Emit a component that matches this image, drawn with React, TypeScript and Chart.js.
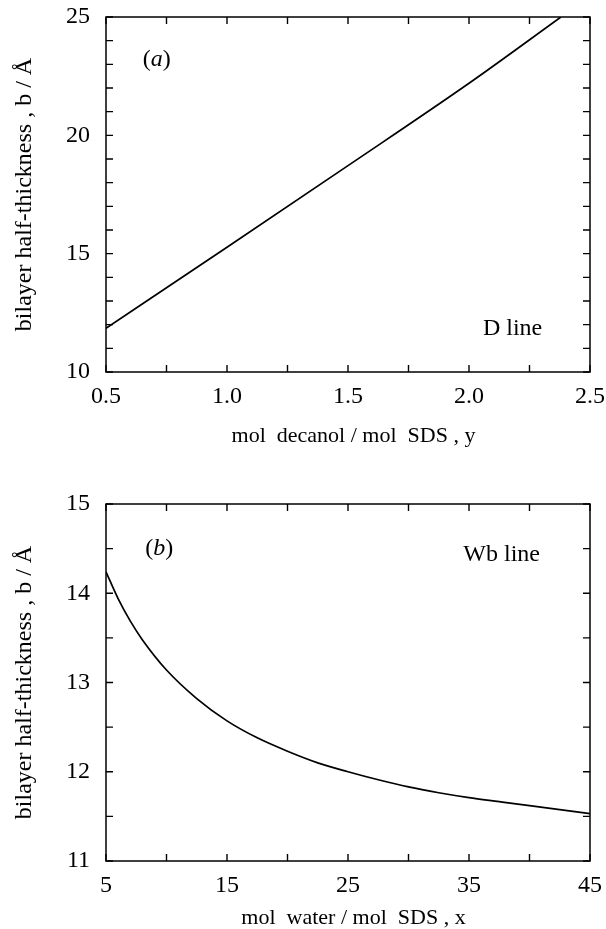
import React, { useEffect, useRef } from "react";
import { Chart, registerables } from "chart.js";
Chart.register(...registerables);

// Panel (a): D line
const decanolY = [0.5, 1.0, 1.5, 2.0, 2.38];
const thicknessA = [11.85, 15.27, 18.72, 22.2, 25.0];
const xTicksA = [0.5, 1.0, 1.5, 2.0, 2.5];
const yTicksA = [10, 15, 20, 25];
const xMinorA = [0.5, 0.75, 1.0, 1.25, 1.5, 1.75, 2.0, 2.25, 2.5];
const yMinorA = [10, 11, 12, 13, 14, 15, 16, 17, 18, 19, 20, 21, 22, 23, 24, 25];

// Panel (b): Wb line
const waterX = [5, 6, 7, 8, 10, 12.5, 15, 17.5, 20, 22.5, 25, 27.5, 30, 32.5, 35, 37.5, 40, 42.5, 45];
const thicknessB = [14.24, 13.94, 13.69, 13.48, 13.14, 12.82, 12.57, 12.38, 12.23, 12.1, 12.0, 11.91, 11.83, 11.765, 11.71, 11.665, 11.62, 11.575, 11.53];
const xTicksB = [5, 15, 25, 35, 45];
const yTicksB = [11, 12, 13, 14, 15];
const xMinorB = [5, 10, 15, 20, 25, 30, 35, 40, 45];
const yMinorB = [11, 11.5, 12, 12.5, 13, 13.5, 14, 14.5, 15];

const SERIF = "'Liberation Serif', 'DejaVu Serif', serif";
const Y_TITLE = "bilayer half-thickness , b / Å";

type Note = { x: number; y: number; parts: { text: string; italic?: boolean }[] };

function framePlugin(xMinor: number[], yMinor: number[], notes: Note[]) {
  return {
    id: "frameTicks",
    afterDatasetsDraw(chart: any) {
      const { ctx, chartArea: a, scales } = chart;
      const xs = scales.x, ys = scales.y;
      ctx.save();
      ctx.strokeStyle = "#000";
      ctx.lineWidth = 1.5;
      ctx.strokeRect(a.left, a.top, a.right - a.left, a.bottom - a.top);
      const L = 7;
      ctx.lineWidth = 1.4;
      ctx.beginPath();
      xMinor.forEach((v) => {
        const p = xs.getPixelForValue(v);
        ctx.moveTo(p, a.bottom); ctx.lineTo(p, a.bottom - L);
        ctx.moveTo(p, a.top); ctx.lineTo(p, a.top + L);
      });
      yMinor.forEach((v) => {
        const p = ys.getPixelForValue(v);
        ctx.moveTo(a.left, p); ctx.lineTo(a.left + L, p);
        ctx.moveTo(a.right, p); ctx.lineTo(a.right - L, p);
      });
      ctx.stroke();
      ctx.fillStyle = "#000";
      ctx.textBaseline = "middle";
      notes.forEach((n) => {
        const fonts = n.parts.map((p) => `${p.italic ? "italic " : ""}24px ${SERIF}`);
        let total = 0;
        const widths = n.parts.map((p, i) => { ctx.font = fonts[i]; const w = ctx.measureText(p.text).width; total += w; return w; });
        let x = xs.getPixelForValue(n.x) - total / 2;
        const y = ys.getPixelForValue(n.y);
        n.parts.forEach((p, i) => { ctx.font = fonts[i]; ctx.textAlign = "left"; ctx.fillText(p.text, x, y); x += widths[i]; });
      });
      ctx.restore();
    },
  };
}

function makeConfig(opts: any) {
  const { xs, ys, xMin, xMax, yMin, yMax, xTicks, yTicks, xFmt, xTitle, padTop, xHeight, xTitlePad, xMinor, yMinor, notes } = opts;
  return {
    type: "line",
    data: {
      datasets: [
        {
          data: xs.map((x: number, i: number) => ({ x, y: ys[i] })),
          borderColor: "#000",
          borderWidth: 1.7,
          pointRadius: 0,
          cubicInterpolationMode: "monotone",
          fill: false,
        },
      ],
    },
    options: {
      animation: false,
      responsive: false,
      devicePixelRatio: 1,
      layout: { padding: { top: padTop, right: 16, left: 0, bottom: 0 } },
      plugins: { legend: { display: false }, tooltip: { enabled: false } },
      scales: {
        x: {
          type: "linear",
          min: xMin,
          max: xMax,
          border: { display: false },
          grid: { display: true, drawOnChartArea: false, drawTicks: false, color: "rgba(0,0,0,0)" },
          afterBuildTicks: (s: any) => { s.ticks = xTicks.map((v: number) => ({ value: v })); },
          afterFit: (s: any) => { s.height = xHeight; s.paddingLeft = 0; s.paddingRight = 0; },
          ticks: { color: "#000", font: { family: SERIF, size: 24 }, padding: 10, maxRotation: 0, autoSkip: false, callback: (v: number) => xFmt(v) },
          title: { display: true, text: xTitle, color: "#000", font: { family: SERIF, size: 22, lineHeight: 1 }, padding: { top: 0, bottom: xTitlePad } },
        },
        y: {
          type: "linear",
          min: yMin,
          max: yMax,
          border: { display: false },
          grid: { display: true, drawOnChartArea: false, drawTicks: false, color: "rgba(0,0,0,0)" },
          afterBuildTicks: (s: any) => { s.ticks = yTicks.map((v: number) => ({ value: v })); },
          afterFit: (s: any) => { s.width = 106; s.paddingTop = 0; s.paddingBottom = 0; },
          ticks: { color: "#000", font: { family: SERIF, size: 24 }, padding: 16, autoSkip: false, callback: (v: number) => String(v) },
          title: { display: true, text: Y_TITLE, color: "#000", font: { family: SERIF, size: 24, lineHeight: 1 }, padding: { top: 13, bottom: 0 } },
        },
      },
    },
    plugins: [framePlugin(xMinor, yMinor, notes)],
  };
}

function Panel({ width, height, config }: { width: number; height: number; config: any }) {
  const ref = useRef<HTMLCanvasElement | null>(null);
  useEffect(() => {
    if (!ref.current) return;
    const chart = new Chart(ref.current, config);
    return () => chart.destroy();
  }, []);
  return <canvas ref={ref} width={width} height={height} style={{ display: "block", width, height }} />;
}

export default function App() {
  const cfgA = makeConfig({
    xs: decanolY, ys: thicknessA, xMin: 0.5, xMax: 2.5, yMin: 10, yMax: 25,
    xTicks: xTicksA, yTicks: yTicksA, xFmt: (v: number) => v.toFixed(1),
    xTitle: "  mol  decanol / mol  SDS , y", padTop: 17, xHeight: 88, xTitlePad: 13,
    xMinor: xMinorA, yMinor: yMinorA,
    notes: [
      { x: 0.71, y: 23.2, parts: [{ text: "(" }, { text: "a", italic: true }, { text: ")" }] },
      { x: 2.18, y: 11.85, parts: [{ text: "D line" }] },
    ],
  });
  const cfgB = makeConfig({
    xs: waterX, ys: thicknessB, xMin: 5, xMax: 45, yMin: 11, yMax: 15,
    xTicks: xTicksB, yTicks: yTicksB, xFmt: (v: number) => String(v),
    xTitle: "  mol  water / mol  SDS , x", padTop: 44, xHeight: 68, xTitlePad: 0,
    xMinor: xMinorB, yMinor: yMinorB,
    notes: [
      { x: 9.4, y: 14.5, parts: [{ text: "(" }, { text: "b", italic: true }, { text: ")" }] },
      { x: 37.7, y: 14.43, parts: [{ text: "Wb line" }] },
    ],
  });
  return (
    <div style={{ position: "absolute", left: 0, top: 0, width: 606, height: 929, background: "#fff" }}>
      <Panel width={606} height={460} config={cfgA} />
      <Panel width={606} height={469} config={cfgB} />
    </div>
  );
}
